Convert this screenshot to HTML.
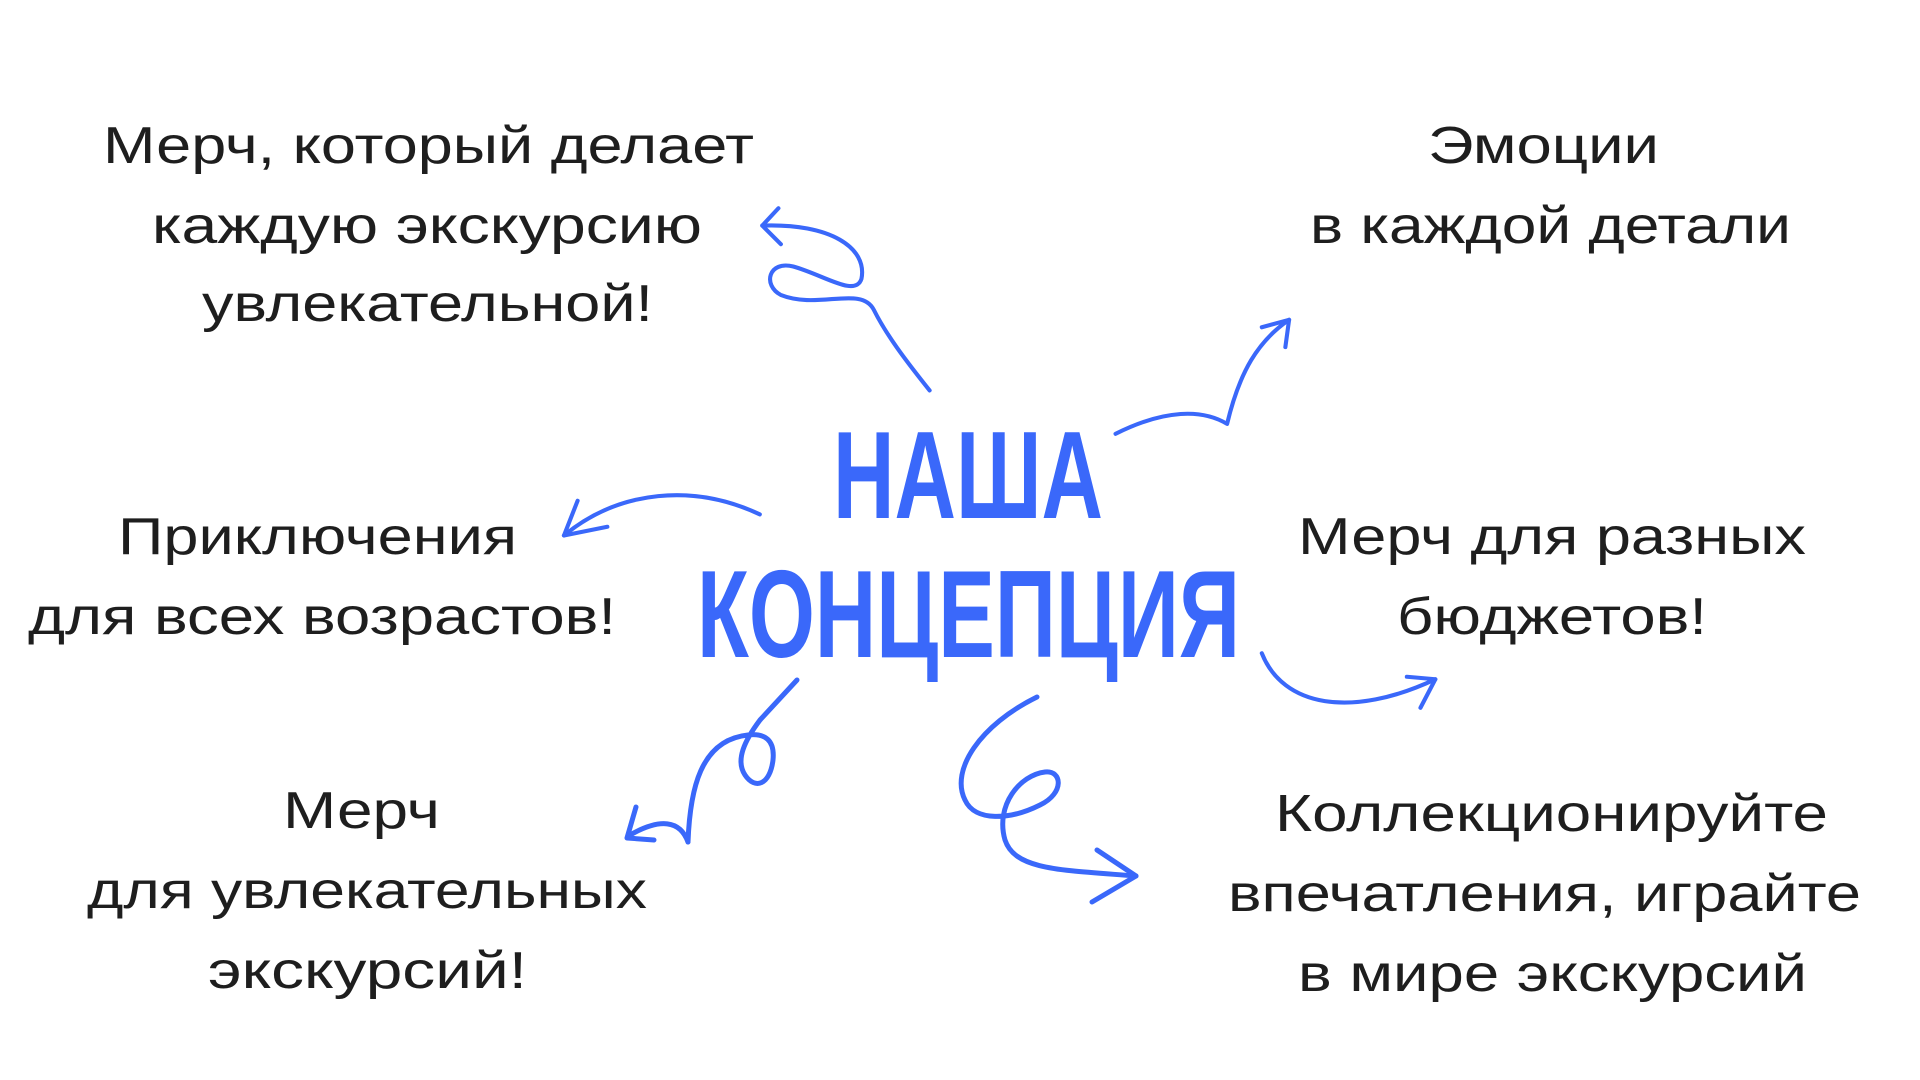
<!DOCTYPE html>
<html><head><meta charset="utf-8"><style>
html,body{margin:0;padding:0;background:#fff;width:1920px;height:1080px;overflow:hidden}
svg{display:block}
.t{font-family:"Liberation Sans","DejaVu Sans",sans-serif;font-size:52px;fill:#1e1e1e;text-anchor:start}
.h{font-family:"Liberation Sans Narrow","Liberation Sans",sans-serif;font-weight:bold;font-size:124px;fill:#3a68fa}
.a{fill:none;stroke:#3a68fa;stroke-width:5;stroke-linecap:round;stroke-linejoin:round}
</style></head><body>
<svg width="1920" height="1080" viewBox="0 0 1920 1080" xmlns="http://www.w3.org/2000/svg">
<g transform="translate(0,-4)">
<text class="t" x="103" y="167" textLength="651" lengthAdjust="spacingAndGlyphs">Мерч, который делает</text>
<text class="t" x="152" y="247" textLength="550" lengthAdjust="spacingAndGlyphs">каждую экскурсию</text>
<text class="t" x="202" y="325" textLength="451" lengthAdjust="spacingAndGlyphs">увлекательной!</text>

<text class="t" x="1428" y="167" textLength="231" lengthAdjust="spacingAndGlyphs">Эмоции</text>
<text class="t" x="1310" y="247" textLength="481" lengthAdjust="spacingAndGlyphs">в каждой детали</text>

<text class="t" x="118" y="558" textLength="399" lengthAdjust="spacingAndGlyphs">Приключения</text>
<text class="t" x="28" y="638" textLength="588" lengthAdjust="spacingAndGlyphs">для всех возрастов!</text>

<text class="t" x="1298" y="558" textLength="508" lengthAdjust="spacingAndGlyphs">Мерч для разных</text>
<text class="t" x="1397" y="638" textLength="310" lengthAdjust="spacingAndGlyphs">бюджетов!</text>

<text class="t" x="283" y="832" textLength="157" lengthAdjust="spacingAndGlyphs">Мерч</text>
<text class="t" x="87" y="912" textLength="560" lengthAdjust="spacingAndGlyphs">для увлекательных</text>
<text class="t" x="208" y="992" textLength="319" lengthAdjust="spacingAndGlyphs">экскурсий!</text>

<text class="t" x="1275" y="835" textLength="553" lengthAdjust="spacingAndGlyphs">Коллекционируйте</text>
<text class="t" x="1228" y="915" textLength="633" lengthAdjust="spacingAndGlyphs">впечатления, играйте</text>
<text class="t" x="1298" y="995" textLength="509" lengthAdjust="spacingAndGlyphs">в мире экскурсий</text>
</g>

<text class="h" x="833" y="518" textLength="270" lengthAdjust="spacingAndGlyphs">НАША</text>
<text class="h" x="697" y="657" textLength="543" lengthAdjust="spacingAndGlyphs">КОНЦЕПЦИЯ</text>

<g transform="scale(1.2395)">
<path class="a" style="stroke-width:3.3" d="M750,315 C730,290 715,270 705,250 C695,230 660,250 630,238 C615,230 620,210 640,215 C665,222 690,240 695,225 C700,200 670,180 615,182"/>
<path class="a" style="stroke-width:3.3" d="M628,168 L615,182 L630,197"/>
<path class="a" style="stroke-width:3.3" d="M900,350 C940,330 970,330 990,342 C1000,300 1015,275 1040,258"/>
<path class="a" style="stroke-width:3.3" d="M1018,264 L1040,258 L1037,280"/>
<path class="a" style="stroke-width:3.3" d="M613,415 C560,390 500,395 455,432"/>
<path class="a" style="stroke-width:3.3" d="M466,404 L455,432 L490,425"/>
<path class="a" style="stroke-width:3.3" d="M1018,527 C1035,570 1090,580 1158,548"/>
<path class="a" style="stroke-width:3.3" d="M1135,546 L1158,548 L1146,571"/>
</g>
<path class="a" d="M797,680 L760,720 C745,740 735,760 745,775 C755,790 770,785 773,760 C775,740 765,733 748,735 C700,740 690,790 688,842"/>
<path class="a" d="M688,842 C680,820 660,818 630,835"/>
<path class="a" d="M636,807 L627,838 L654,840"/>
<path class="a" d="M1037,697 C980,725 950,770 965,800 C975,822 1010,820 1040,805 C1065,793 1062,770 1045,772 C1020,775 995,805 1005,840 C1015,870 1060,870 1136,876"/>
<path class="a" d="M1097,850 L1136,876 L1092,902"/>
</svg>
</body></html>
